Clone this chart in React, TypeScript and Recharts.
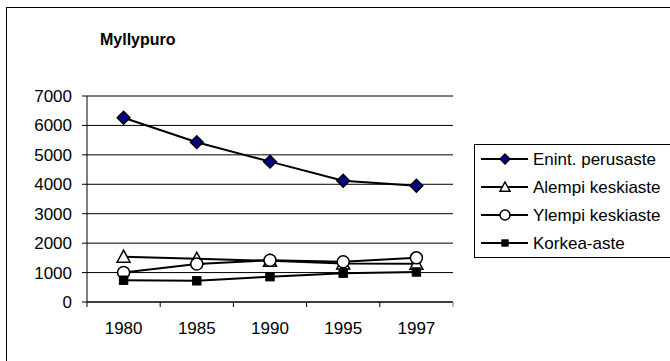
import React from 'react';
import { LineChart, Line, XAxis, YAxis, CartesianGrid, ReferenceLine, Legend } from 'recharts';

// Education level of residents in Myllypuro, by year
const years = ['1980', '1985', '1990', '1995', '1997'];
const enint = [6260, 5430, 4770, 4120, 3950];
const alempi = [1540, 1470, 1400, 1310, 1300];
const ylempi = [1000, 1290, 1420, 1370, 1500];
const korkea = [740, 720, 860, 980, 1020];
const yTicks = [0, 1000, 2000, 3000, 4000, 5000, 6000, 7000];

const seriesNames = {
  enint: 'Enint. perusaste',
  alempi: 'Alempi keskiaste',
  ylempi: 'Ylempi keskiaste',
  korkea: 'Korkea-aste',
};

const data = years.map((year, i) => ({
  year,
  enint: enint[i],
  alempi: alempi[i],
  ylempi: ylempi[i],
  korkea: korkea[i],
}));

const W = 670;
const H = 361;
const FONT = '"Liberation Sans", Arial, sans-serif';
const MARGIN = { top: 96, right: 217, left: 27, bottom: 29 };
const PLOT_W = W - MARGIN.left - 60 - MARGIN.right;
const HALF_BAND = PLOT_W / years.length / 2;
const X_TICK_SIZE = 5;
const X_TICK_MARGIN = 15;

type Shape = 'diamond' | 'triangle' | 'circle' | 'square';

const drawMarker = (shape: Shape, cx: number, cy: number, s: number, key?: string) => {
  switch (shape) {
    case 'diamond':
      return (
        <polygon key={key} points={`${cx},${cy - s} ${cx + s},${cy} ${cx},${cy + s} ${cx - s},${cy}`}
          fill="#000080" stroke="#000" strokeWidth={1.3} />
      );
    case 'triangle':
      return (
        <polygon key={key} points={`${cx},${cy - s} ${cx + s},${cy + s * 0.85} ${cx - s},${cy + s * 0.85}`}
          fill="#fff" stroke="#000" strokeWidth={1.5} />
      );
    case 'circle':
      return <circle key={key} cx={cx} cy={cy} r={s} fill="#fff" stroke="#000" strokeWidth={1.5} />;
    default:
      return (
        <rect key={key} x={cx - s * 0.7} y={cy - s * 0.7} width={s * 1.4} height={s * 1.4}
          fill="#000" stroke="#000" strokeWidth={1} />
      );
  }
};

const series: { key: keyof typeof seriesNames; shape: Shape; size: number }[] = [
  { key: 'enint', shape: 'diamond', size: 6.5 },
  { key: 'alempi', shape: 'triangle', size: 6.5 },
  { key: 'ylempi', shape: 'circle', size: 6 },
  { key: 'korkea', shape: 'square', size: 6 },
];

const makeDot = (shape: Shape, size: number) => (props: any) => {
  const { cx, cy, index } = props;
  if (cx == null || cy == null) return <g key={`d-${index}`} />;
  return drawMarker(shape, cx, cy, size, `d-${shape}-${index}`);
};

const XTick = (props: any) => {
  const { x, y, payload, index } = props;
  const axisY = y - X_TICK_MARGIN - X_TICK_SIZE;
  const last = index === years.length - 1;
  return (
    <g>
      <line x1={x - HALF_BAND} x2={x - HALF_BAND} y1={axisY} y2={axisY + X_TICK_SIZE} stroke="#000" />
      {last && (
        <line x1={x + HALF_BAND} x2={x + HALF_BAND} y1={axisY} y2={axisY + X_TICK_SIZE} stroke="#808080" />
      )}
      <text x={x} y={y} dy="0.71em" textAnchor="middle" fontFamily={FONT} fontSize={17} fill="#000">
        {payload.value}
      </text>
    </g>
  );
};

const LegendBox = () => (
  <div style={{ border: '1px solid #000', width: 220, height: 112, background: '#fff' }}>
    <svg width={220} height={112}>
      {series.map((s, i) => {
        const cy = 14 + i * 28;
        return (
          <g key={s.key}>
            <line x1={6} x2={53} y1={cy} y2={cy} stroke="#000" strokeWidth={2} />
            {drawMarker(s.shape, 30, cy, s.shape === 'square' ? 4.5 : 5)}
            <text x={58} y={cy} dy="0.36em" fontFamily={FONT} fontSize={17} fill="#000">
              {seriesNames[s.key]}
            </text>
          </g>
        );
      })}
    </svg>
  </div>
);

export default function App() {
  return (
    <div style={{ position: 'absolute', left: 0, top: 0, width: W, height: H, overflow: 'hidden', background: '#fff' }}>
      <div style={{ position: 'absolute', left: 6, top: 7, width: 720, height: 420, border: '1px solid #000' }} />
      <svg style={{ position: 'absolute', left: 0, top: 0 }} width={W} height={60}>
        <text x={100} y={45} fontFamily={FONT} fontSize={16} fontWeight="bold" fill="#000">
          Myllypuro
        </text>
      </svg>
      <div style={{ position: 'absolute', left: 0, top: 0 }}>
        <LineChart width={W} height={H} data={data} margin={MARGIN}>
          <CartesianGrid horizontal vertical={false} stroke="#000" strokeWidth={1} />
          <XAxis
            dataKey="year"
            padding={{ left: HALF_BAND, right: HALF_BAND }}
            height={30}
            tickLine={false}
            tickSize={X_TICK_SIZE}
            tickMargin={X_TICK_MARGIN}
            axisLine={{ stroke: '#000' }}
            tick={<XTick />}
            interval={0}
          />
          <YAxis
            domain={[0, 7000]}
            ticks={yTicks}
            width={60}
            tickSize={5}
            tickMargin={10}
            tickLine={{ stroke: '#000' }}
            axisLine={{ stroke: '#000' }}
            tick={{ fontFamily: FONT, fontSize: 17, fill: '#000' }}
            interval={0}
          />
          <YAxis
            yAxisId="frame"
            orientation="right"
            width={0}
            domain={[0, 7000]}
            tick={false}
            tickLine={false}
            axisLine={{ stroke: '#808080' }}
          />
          <ReferenceLine y={7000} stroke="#808080" />
          {series.map((s) => (
            <Line
              key={s.key}
              dataKey={s.key}
              name={seriesNames[s.key]}
              stroke="#000"
              strokeWidth={2}
              dot={makeDot(s.shape, s.size)}
              activeDot={false}
              isAnimationActive={false}
            />
          ))}
          <Legend
            layout="vertical"
            align="center"
            verticalAlign="middle"
            content={() => <LegendBox />}
            wrapperStyle={{ position: 'absolute', left: 474, top: 144, width: 222, height: 114 }}
          />
        </LineChart>
      </div>
    </div>
  );
}
